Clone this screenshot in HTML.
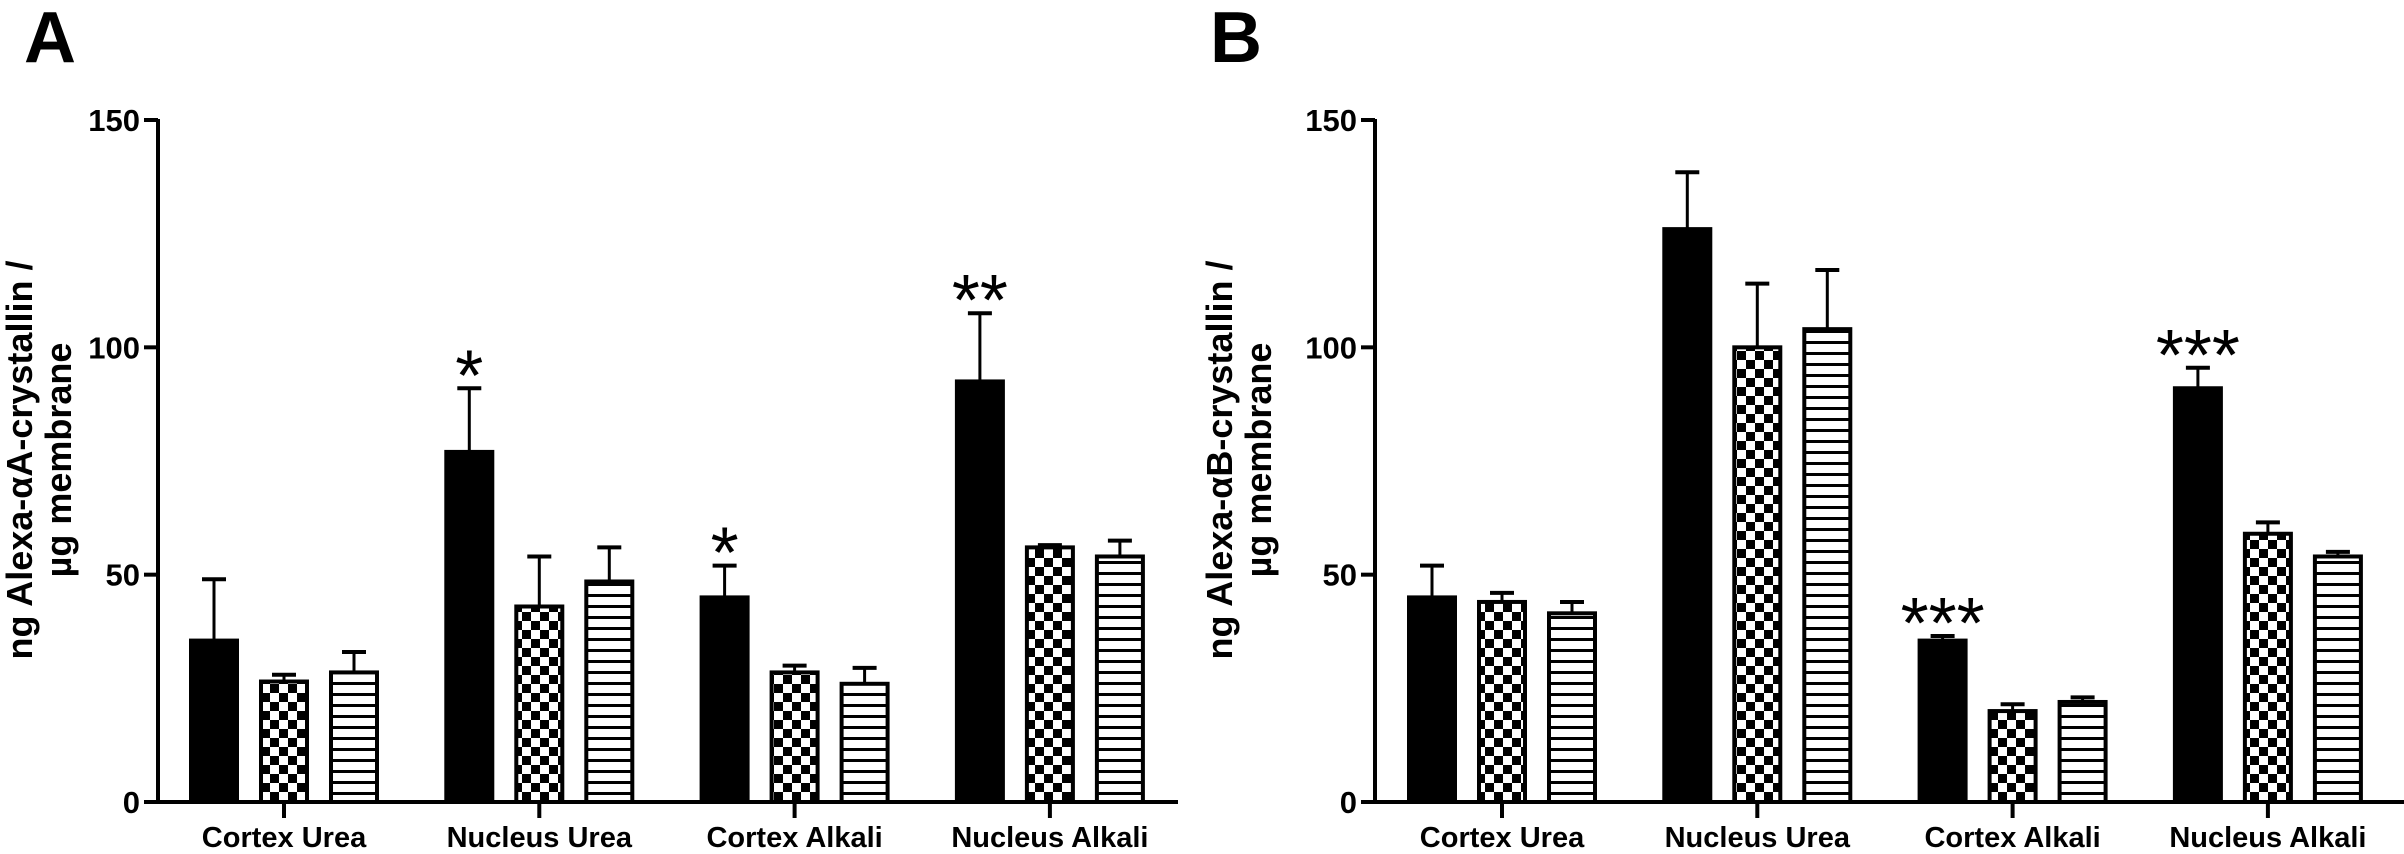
<!DOCTYPE html>
<html><head><meta charset="utf-8"><style>
html,body{margin:0;padding:0;background:#fff;}
svg{display:block;font-family:"Liberation Sans",Arial,sans-serif;}
</style></head>
<body>
<svg id="fig" width="2404" height="854" viewBox="0 0 2404 854" xmlns="http://www.w3.org/2000/svg">
<defs>
<pattern id="checker" width="18" height="18" patternUnits="userSpaceOnUse">
<rect width="18" height="18" fill="#fff"/>
<rect x="0" y="0" width="9" height="9" fill="#000"/>
<rect x="9" y="9" width="9" height="9" fill="#000"/>
</pattern>
<pattern id="stripes" width="11" height="11" patternUnits="userSpaceOnUse">
<rect width="11" height="11" fill="#fff"/>
<rect x="0" y="0" width="11" height="3" fill="#000"/>
</pattern>
</defs>
</svg>
<script>
const categories = ["Cortex Urea","Nucleus Urea","Cortex Alkali","Nucleus Alkali"];
const yTicks = [0,50,100,150];
const aSolid = [35.5,77,45,92.5];
const aSolidErr = [49,91,52,107.5];
const aChecker = [26.5,43,28.5,56];
const aCheckerErr = [28,54,30,56.5];
const aStripe = [28.5,48.5,26,54];
const aStripeErr = [33,56,29.5,57.5];
const aSig = ["","*","*","**"];
const bSolid = [45,126,35.5,91];
const bSolidErr = [52,138.5,36.5,95.5];
const bChecker = [44,100,20,59];
const bCheckerErr = [46,114,21.5,61.5];
const bStripe = [41.5,104,22,54];
const bStripeErr = [44,117,23,55];
const bSig = ["","","***","***"];

const svg = document.getElementById('fig');
const NS = "http://www.w3.org/2000/svg";
function mk(tag, attrs, parent){
  const e = document.createElementNS(NS, tag);
  for (const k in attrs) e.setAttribute(k, attrs[k]);
  (parent||svg).appendChild(e);
  return e;
}
const y0 = 802, yTop = 120;
function yScale(v){ return y0 - (v/150)*(y0-yTop); }

function panel(p){
  const g = mk('g',{});
  
  
  const letter = mk('text',{x:p.letterX,y:62,'font-size':72,'font-weight':'bold'},g);
  letter.textContent = p.letter;
  
  
  const ax = mk('line',{x1:p.axisX,y1:yTop-1,x2:p.axisX,y2:y0+2,stroke:'#000','stroke-width':4},g);
  
  
  const xa = mk('line',{x1:p.axisX-2,y1:y0,x2:p.axisEnd,y2:y0,stroke:'#000','stroke-width':4},g);
  
  
  yTicks.forEach(t=>{
    const yy = yScale(t);
    mk('line',{x1:p.axisX-14,y1:yy,x2:p.axisX,y2:yy,stroke:'#000','stroke-width':4},g);
    const tx = mk('text',{x:p.axisX-18,y:yy+11,'font-size':31,'font-weight':'bold','text-anchor':'end'},g);
    tx.textContent = t;
    
    
  });
  const tt = mk('text',{transform:`translate(${p.titleX},460) rotate(-90)`,'font-size':36,'font-weight':'bold','text-anchor':'middle'},g);
  tt.textContent = p.title1;
  
  
  const tt2 = mk('text',{transform:`translate(${p.titleX+39},460) rotate(-90)`,'font-size':36,'font-weight':'bold','text-anchor':'middle'},g);
  tt2.textContent = "\u00b5g membrane";
  
  
  const series = [
    {vals:p.solid, errs:p.solidErr, fill:'#000', off:-70, name:'solid'},
    {vals:p.checker, errs:p.checkerErr, fill:'url(#checker)', off:0, name:'checker'},
    {vals:p.stripe, errs:p.stripeErr, fill:'url(#stripes)', off:70, name:'stripe'}
  ];
  categories.forEach((c,i)=>{
    const cx = p.firstTick + i*255.3;
    mk('line',{x1:cx,y1:y0,x2:cx,y2:y0+16,stroke:'#000','stroke-width':4},g);
    const lab = mk('text',{x:cx,y:847,'font-size':29,'font-weight':'bold','text-anchor':'middle'},g);
    lab.textContent = c;
    
    
    series.forEach(s=>{
      const bx = cx + s.off;
      const top = yScale(s.vals[i]);
      const et = yScale(s.errs[i]);
      const el = mk('line',{x1:bx,y1:et,x2:bx,y2:top,stroke:'#000','stroke-width':3},g);
      
      
      mk('line',{x1:bx-12,y1:et,x2:bx+12,y2:et,stroke:'#000','stroke-width':4},g);
      const r = mk('rect',{x:bx-23,y:top,width:46,height:y0-top,fill:s.fill,stroke:'#000','stroke-width':4},g);
      
      
    });
    if (p.sig[i]) {
      const et = yScale(p.solidErr[i]);
      const st = mk('text',{x:cx-70,y:et+12,'font-size':72,'text-anchor':'middle'},g);
      st.textContent = p.sig[i];
      
      
    }
  });
}
panel({id:'a',letter:'A',letterX:24,axisX:158,axisEnd:1178,firstTick:284,titleX:32,
  title1:"ng Alexa-\u03b1A-crystallin /",solid:aSolid,solidErr:aSolidErr,checker:aChecker,checkerErr:aCheckerErr,stripe:aStripe,stripeErr:aStripeErr,sig:aSig});
panel({id:'b',letter:'B',letterX:1210,axisX:1375,axisEnd:2404,firstTick:1502,titleX:1232,
  title1:"ng Alexa-\u03b1B-crystallin /",solid:bSolid,solidErr:bSolidErr,checker:bChecker,checkerErr:bCheckerErr,stripe:bStripe,stripeErr:bStripeErr,sig:bSig});
</script>
</body></html>
